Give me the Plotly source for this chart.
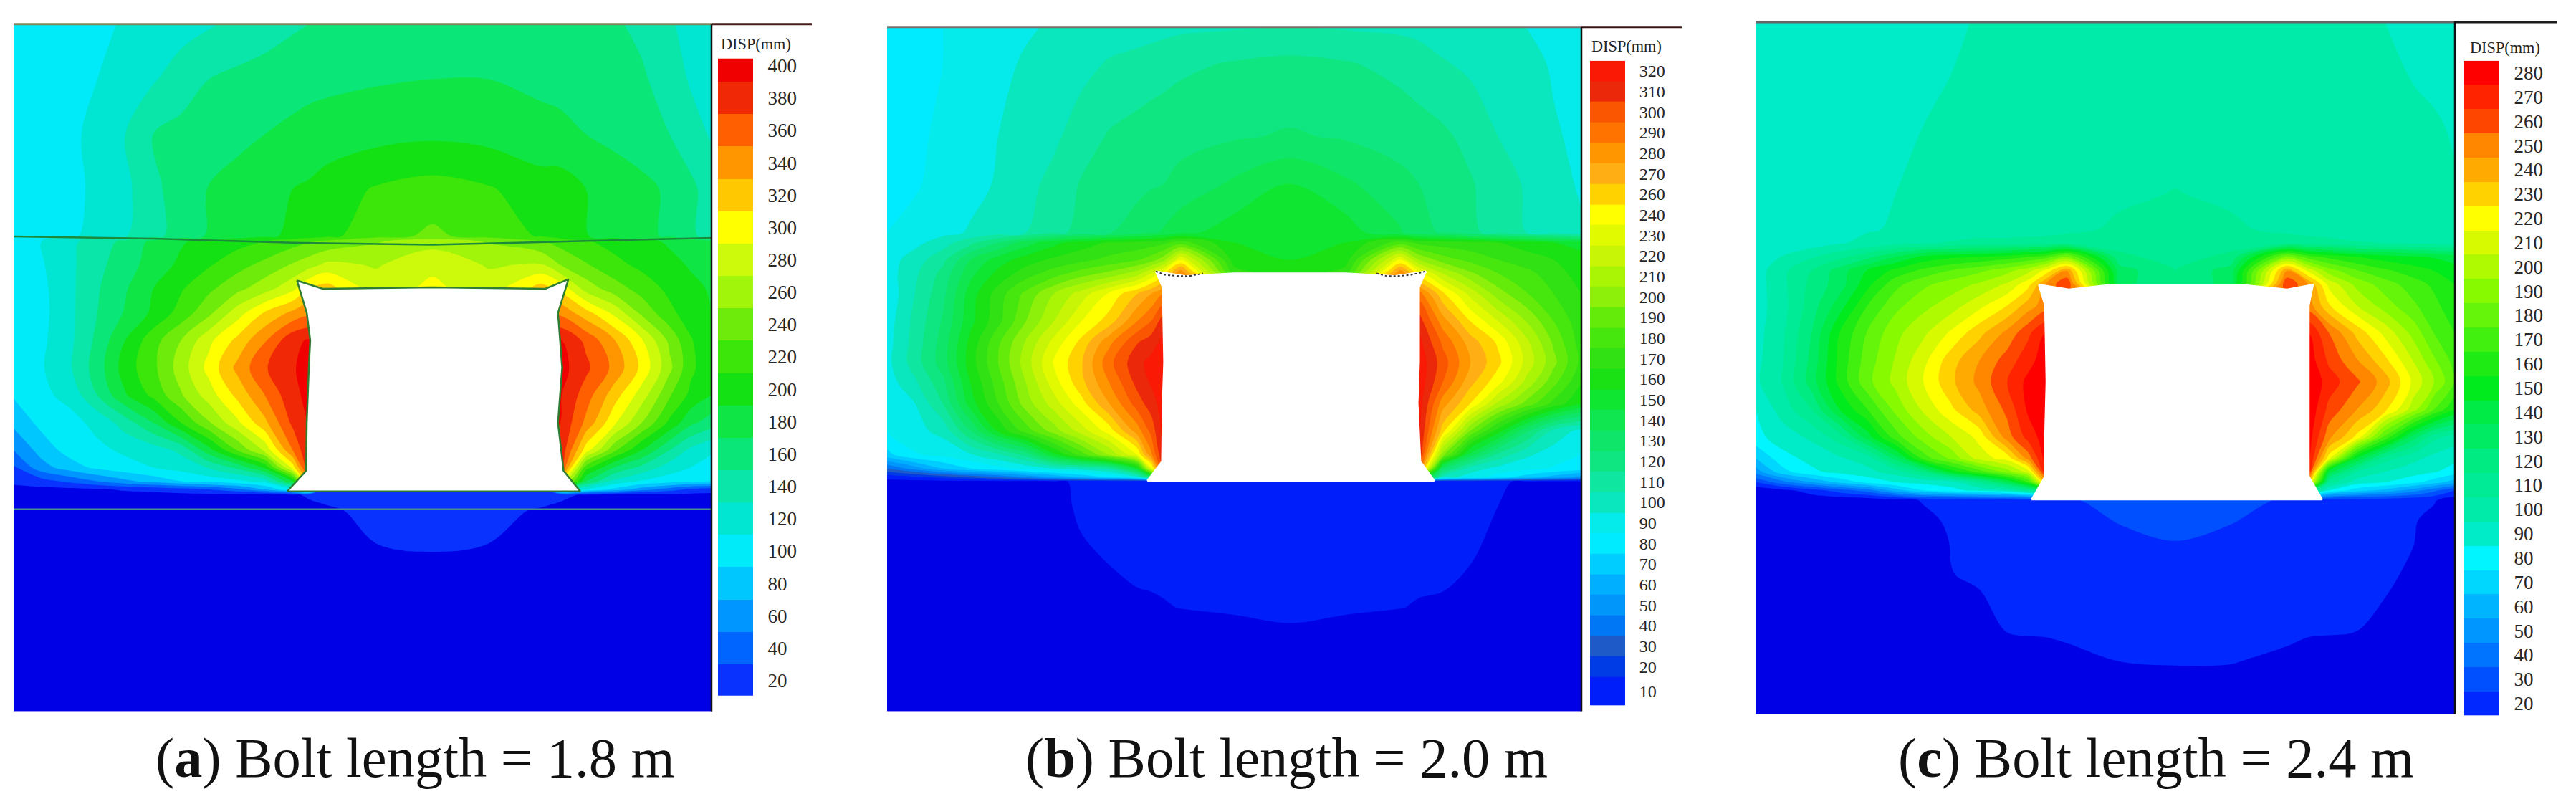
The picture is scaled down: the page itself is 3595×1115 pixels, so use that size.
import plotly.graph_objects as go

W, H = 3595, 1115

# ---------- panel (a): Bolt length = 1.8 m ----------
a_x = [0,4,8,12,16,20,24,28,32,36,40,42.3,45,52,60,68,75.5,78.3,82,86,90,94,97,100]
a_y = [100,92,84,76,69.2,68.4,65,61.5,58,54,50,46,42,38,35.5,33.5,32.3,31.5,29.2,24.4,22,0]
a_z = [
[102,104,106,108,111,116,122,128,134,140,147,150,153,157,160,158,157,156,155,153,145,132,125,120],
[100,103,106,110,120,128,140,150,155,159,163,165,166,168,170,170,166,164,160,157,153,140,128,120],
[98,102,107,114,130,150,156,160,165,170,174,176,178,183,186,183,176,175,170,165,160,150,138,128],
[96,100,106,113,125,145,160,171,177,184,190,193,200,212,218,212,200,200,190,181,175,167,155,140],
[94,100,107,116,128,143,160,172,180,186,194,198,205,222,234,222,208,200,191,182,175,167,155,140],
[95,110,125,140,155,175,188,196,203,210,222,228,235,248,262,248,232,222,212,203,196,187,180,175],
[94,108,125,145,160,180,194,208,222,236,252,262,275,268,285,268,272,250,232,216,205,196,188,180],
[93,105,125,148,168,190,208,226,244,262,285,310,320,280,295,280,320,305,262,240,222,205,195,188],
[92,104,125,150,172,194,218,245,280,312,335,345,345,345,345,345,345,345,318,285,245,215,200,190],
[94,106,125,155,190,222,250,285,315,348,385,392,392,392,392,392,392,392,365,332,292,245,212,193],
[95,108,127,160,200,225,260,297,335,368,388,398,398,398,398,398,398,398,375,345,305,255,215,195],
[92,106,115,150,188,215,248,280,315,350,385,395,395,395,395,395,395,392,360,320,280,232,205,190],
[75,96,104,115,140,170,210,248,285,325,375,392,392,392,392,392,392,390,345,295,250,205,175,160],
[50,78,98,106,113,120,135,183,230,275,350,390,390,390,390,390,390,388,300,235,190,150,125,112],
[28,62,80,95,104,110,118,132,155,195,300,385,385,385,385,385,385,380,220,170,145,120,110,104],
[14,22,35,50,65,78,90,98,105,118,190,320,300,300,300,300,300,300,170,125,108,100,95,90],
[5,5,5,8,12,15,22,30,45,70,110,180,20,20,20,20,20,150,110,85,60,40,25,20],
[5,5,5,5,5,5,5,5,5,6,8,12,16,20,20,20,18,14,8,5,5,5,5,5],
[5,5,5,5,5,5,5,5,5,5,5,5,7,16,20,16,8,5,5,5,5,5,5,5],
[5,5,5,5,5,5,5,5,5,5,5,5,5,10,15,10,5,5,5,5,5,5,5,5],
[5]*24,
[5]*24,
]
a_hole_x = [40.6,42.0,42.5,42.3,42.0,41.9,39.2,60,81.2,78.8,78.0,78.6,78.0,79.5,76.2,60,44.3,40.6]
a_hole_y = [62.7,58,54,50,42,35,32,32,32,35,42,50,58,62.9,61.5,61.7,61.5,62.7]
a_seam1_x = [0,20,40,60,80,100]
a_seam1_y = [69.1,68.8,68.2,67.9,68.4,68.9]
a_seam2_x = [0,100]
a_seam2_y = [29.4,29.4]
a_labels = [20,40,60,80,100,120,140,160,180,200,220,240,260,280,300,320,340,360,380,400]
a_colors = ["#0000E6","#0A32FF","#0064FF","#0096FF","#00C8FF","#00EBFA","#00E6D2","#0AE6AA","#0AE678",
            "#0FE646","#14E114","#3CE60A","#6EEB0A","#A0F50A","#CDFA0A","#FFFF00","#FFC800","#FF9600",
            "#FF5F00","#F02805","#F00000"]

# ---------- panel (b): Bolt length = 2.0 m ----------
b_x = [0,4,8,12,16,20,24,28,32,36,38,39.7,42.3,50,58,66,73.9,76.6,80,84,88,92,96,100]
b_y = [100,94.6,84,77,70,68.5,66,64,61,57,54,51,48,45,41,37.5,35.5,34.2,33.6,30,22,15.2,13,0]
b_z = [
[82,83,85,88,91,94,96,98,100,101,101,102,103,104,105,104,103,102,100,99,97,95,93,90],
[80,82,85,89,93,96,99,102,106,108,110,111,113,116,118,116,112,110,106,103,100,98,94,91],
[80,83,87,91,95,99,103,110,116,119,120,121,122,124,126,124,121,119,117,112,105,100,96,93],
[80,84,88,92,96,102,108,116,120,122,124,125,128,137,146,137,128,125,120,116,110,104,98,94],
[85,88,92,96,100,105,112,118,124,130,133,136,142,150,154,150,136,128,124,118,110,105,100,96],
[88,92,100,112,125,140,152,160,166,168,170,172,180,155,152,155,180,172,170,168,165,160,155,150],
[90,100,112,135,150,160,167,172,178,184,190,200,235,160,155,160,235,205,190,182,175,170,165,160],
[90,103,118,142,158,170,180,190,198,210,225,240,275,170,160,170,275,240,215,197,185,178,170,160],
[88,105,122,150,170,188,205,220,237,255,265,275,275,275,275,275,275,280,248,222,200,186,175,165],
[90,108,126,152,172,195,215,235,250,275,285,300,300,300,300,300,300,300,270,245,225,205,185,168],
[91,109,129,158,183,206,228,248,272,294,300,308,308,308,308,308,308,308,283,260,243,218,193,170],
[92,110,130,160,185,210,236,254,282,302,308,312,312,312,312,312,312,312,290,265,248,222,198,172],
[90,103,122,155,180,205,230,252,275,298,306,312,312,312,312,312,312,312,285,258,238,212,188,165],
[85,95,115,150,175,200,220,241,265,290,300,310,310,310,310,310,310,310,270,245,213,192,172,155],
[85,92,98,125,157,180,200,220,240,270,288,308,308,308,308,308,308,308,250,195,160,128,102,92],
[72,84,88,94,103,118,152,180,205,235,272,305,305,305,305,305,305,305,200,140,112,97,90,85],
[35,50,65,75,82,88,95,100,108,150,230,290,290,290,290,290,290,280,130,100,92,88,84,80],
[8,12,18,26,34,45,55,65,75,90,130,180,180,180,180,180,180,170,100,90,80,70,60,50],
[2,2,2,2,2,2,4,6,8,8,8,8,8,8,8,8,8,8,8,7,6,4,2,2],
[2,2,2,2,2,2,3,6,8,8,8,8,8,8,8,8,8,8,8,7,5,3,2,2],
[2,2,2,2,2,2,2,4,5.2,7,7,7,7,8,8,8,7,7,7,5.2,3,2,2,2],
[2,2,2,2,2,2,2,2,3,3.5,4,4.5,5.2,6,7,6,5.2,4.5,4,3,2,2,2,2],
[2,2,2,2,2,2,2,2,2,2,2,2,3,4,5.1,4,3,2,2,2,2,2,2,2],
[2]*24,
]
b_hole_x = [38.7,39.7,39.9,39.7,39.6,37.5,58,78.8,76.8,76.4,76.6,76.6,77.6,73,66,50,43,38.7]
b_hole_y = [64.3,62,51,45,36.5,33.7,33.7,33.7,36.5,45,51,62,64.3,63.6,64,64,63.6,64.3]
b_tip1_x = [38.7,40,42,43.5,45.5]
b_tip1_y = [64.3,63.8,63.6,63.6,64]
b_tip2_x = [70.5,72,73.5,75.5,77.6]
b_tip2_y = [64,63.6,63.6,63.8,64.3]
# the source legend skips 250, so the printed labels are kept as they are
b_labels = [10,20,30,40,50,60,70,80,90,100,110,120,130,140,150,160,170,180,190,200,210,220,230,240,
            260,270,280,290,300,310,320]
b_levels = [10,20,30,40,50,60,70,80,90,100,110,120,130,140,150,160,170,180,190,200,210,220,230,240,
            250,260,270,280,290,300,310]
b_edges = [1,15,25,35,45,55,65,75,85,95,105,115,125,135,145,155,165,175,185,195,205,215,225,235,
           245,255,265,275,285,295,305,315]
b_ticks = [8,20,30,40,50,60,70,80,90,100,110,120,130,140,150,160,170,180,190,200,210,220,230,240,
           250,260,270,280,290,300,310]
b_colors = ["#0000E6","#001EFA","#003CE6","#1E5AC8","#0078F5","#0096FA","#00AFFF","#00CDFF","#00EBFF",
            "#05EBEB","#0AE6BE","#0FE6A0","#0FE682","#0FE669","#0FE650","#0FE632","#19E114","#32E114",
            "#46E60F","#64EB0A","#8CF00A","#AAF505","#C8F505","#E1FA00","#FFFF00","#FFD200","#FFAF14",
            "#FF9600","#FF7300","#FA5500","#EB280A","#FA1905"]

# ---------- panel (c): Bolt length = 2.4 m ----------
c_x = [0,4,8,12,16,20,24,28,32,36,39,41.4,44.5,52,60,68,76,79.1,82,86,90,94,97,100]
c_y = [100,85,75,70,68,66,64,62,59,55,51,48,44,40,37,35,33.5,32.3,30.9,28,25,20,12,7.6,0]
c_z = [
[85,86,87,88,89,90,91,93,96,97,98,98,98,99,99,99,98,98,98,97,95,92,90,88],
[85,86,87,88,90,92,95,97,98,98,98,98,99,99,100,99,98,98,98,98,98,97,96,94],
[85,87,88,90,92,95,97,98,98,99,99,100,100,103,105.5,103,100,99,99,98,98,97,97,96],
[86,88,90,92,94,96,98,99,100,100,100,100,102,107,110,107,102,100,100,99,99,98,97,97],
[86,88,90,94,98,102,104,106,108,108,109,110,112,110,112,110,112,110,108,106,105,104,103,102],
[88,96,104,112,122,135,148,153,155,160,165,170,188,118,110,118,188,170,162,155,150,147,144,140],
[90,103,115,130,146,158,168,176,183,192,202,218,245,130,115,130,245,212,190,176,167,160,155,150],
[90,103,118,130,152,172,183,190,197,207,222,245,265,130,115,130,265,245,212,192,180,170,163,155],
[90,102,120,140,165,182,192,200,212,225,240,250,250,250,250,250,250,250,226,205,190,177,168,158],
[91,104,125,155,176,192,203,217,232,248,263,275,275,275,275,275,275,275,255,232,212,192,175,165],
[92,105,128,158,180,196,212,231,245,260,271,281,281,281,281,281,281,281,263,246,228,205,187,171],
[93,106,130,158,182,198,215,233,248,265,278,284,284,284,284,284,284,284,270,257,240,213,195,176],
[85,100,115,145,165,188,207,223,240,258,277,283,283,283,283,283,283,283,262,245,228,200,175,155],
[82,90,97,110,140,170,190,205,218,250,269,280,280,280,280,280,280,280,248,222,172,130,108,100],
[65,82,88,94,100,130,170,188,210,220,250,278,278,278,278,278,278,278,220,145,110,98,92,88],
[50,72,83,88,92,100,118,150,170,190,210,270,270,270,270,270,270,270,140,105,95,90,86,80],
[25,42,55,68,78,85,88,90,110,135,165,230,230,230,230,230,230,230,110,90,85,78,70,60],
[8,12,20,30,40,60,75,82,88,95,110,120,30,30,30,30,30,120,85,70,62,50,38,25],
[8,8,8,8,8,11,16,18,19,20,21,22,24,28,30,28,24,22,20,19,18,17,16,10],
[8,8,8,8,8,8,12,17,18,19,20,21,22,25.5,28,25.5,22,21,20,19,18,16,12,8],
[8,8,8,8,8,8,10,15.5,17,18,19,20,21,23,25,23,21,20,19,18,18,15.5,10,8],
[8,8,8,8,8,8,9,14.8,16,17,18,18,18,18,19,18,18,18,18,17,17,13,9,8],
[8,8,8,8,8,8,8,9,12,15.3,16,16,17,17,18,17,17,16,16,15,12,9,8,8],
[8,8,8,8,8,8,8,8,8,8,10,11,12,15,15.6,15.4,13,11,9,8,8,8,8,8],
[8]*24,
]
c_hole_x = [40.5,41.4,41.6,41.4,41.4,39.5,60,81,79.1,79.1,79.1,79.1,79.7,76,69.3,60,51,44.8,40.5]
c_hole_y = [62,59,48,40,34.3,31,31,31,34.3,40,48,59,62,61.3,62,62,62,61.3,62]
c_labels = [20,30,40,50,60,70,80,90,100,110,120,130,140,150,160,170,180,190,200,210,220,230,240,250,260,270,280]
c_colors = ["#0000E6","#0028FF","#0050FF","#0073FF","#0096FF","#00B4FF","#00D7FF","#00F5FF","#00EBC8",
            "#00EBAA","#00EB96","#00EB82","#00EB64","#00EB46","#00EB1E","#1EEB14","#41F00F","#64F50A",
            "#87FA00","#AFFA00","#D7FA00","#FFFF00","#FFD200","#FFAA00","#FF8700","#FF4600","#FF2300","#FF0000"]

captions = ["(<b>a</b>) Bolt length = 1.8 m", "(<b>b</b>) Bolt length = 2.0 m", "(<b>c</b>) Bolt length = 2.4 m"]
legend_title = "DISP(mm)"

for g, ys, xs in ((a_z, a_y, a_x), (b_z, b_y, b_x), (c_z, c_y, c_x)):
    assert len(g) == len(ys)
    assert all(len(r) == len(xs) for r in g)


def px(x):
    return x / W


def py(y):
    return 1 - y / H


def scale(cols):
    return [[i / (len(cols) - 1), c] for i, c in enumerate(cols)]


panels = [
    dict(x=a_x, y=a_y, z=a_z, hx=a_hole_x, hy=a_hole_y, cols=a_colors, zmin=0, zmax=400,
         start=-10, end=410, size=20, outline="#2E7D32", box=(19, 993, 29, 992), bar=(1002, 1051, 77, 970),
         bar_y=a_labels, bar_z=a_labels, bar_rng=[10.7, 404.4], ticks=a_labels, ticktext=a_labels, font=27,
         cap_x=579, title_x=1055, title_y=57, rule=(19, 1133, 29), rule_c="#7E8A5E", rule2="#4A1E1E"),
    dict(x=b_x, y=b_y, z=b_z, hx=b_hole_x, hy=b_hole_y, cols=b_colors, zmin=0, zmax=310,
         start=-5, end=315, size=10, outline="#FFFFFF", box=(1238, 2207, 33, 992), bar=(2219, 2268, 80, 984),
         bar_y=b_edges, bar_z=b_levels, bar_rng=[1, 315], ticks=b_ticks, ticktext=b_labels, font=24,
         cap_x=1795, title_x=2270, title_y=60, rule=(1238, 2347, 33), rule_c="#777066", rule2="#3A1616"),
    dict(x=c_x, y=c_y, z=c_z, hx=c_hole_x, hy=c_hole_y, cols=c_colors, zmin=10, zmax=280,
         start=5, end=285, size=10, outline="#FFFFFF", box=(2450, 3426, 25, 996), bar=(3438, 3488, 80, 998),
         bar_y=c_labels, bar_z=c_labels, bar_rng=[15, 285], ticks=c_labels, ticktext=c_labels, font=27,
         cap_x=3009, title_x=3496, title_y=62, rule=(2450, 3568, 26), rule_c="#666666", rule2="#1C1C1C"),
]

fig = go.Figure()
layout = {}
shapes = []
annotations = []

for i, p in enumerate(panels):
    n_map = 2 * i + 1
    n_bar = 2 * i + 2
    xa_map, ya_map = f"x{n_map}", f"y{n_map}"
    xa_bar, ya_bar = f"x{n_bar}", f"y{n_bar}"
    x0, x1, y0, y1 = p["box"]
    layout[f"xaxis{n_map}"] = dict(domain=[px(x0), px(x1)], range=[0, 100], visible=False, anchor=ya_map)
    layout[f"yaxis{n_map}"] = dict(domain=[py(y1), py(y0)], range=[0, 100], visible=False, anchor=xa_map)
    bx0, bx1, by0, by1 = p["bar"]
    layout[f"xaxis{n_bar}"] = dict(domain=[px(bx0), px(bx1)], range=[0, 1], visible=False, anchor=ya_bar)
    layout[f"yaxis{n_bar}"] = dict(
        domain=[py(by1), py(by0)], range=p["bar_rng"], anchor=xa_bar, side="right",
        tickmode="array", tickvals=p["ticks"], ticktext=[str(t) for t in p["ticktext"]],
        ticks="outside", ticklen=14, tickcolor="rgba(255,255,255,0)", showgrid=False, zeroline=False,
        showline=False, tickfont=dict(family="Liberation Serif", size=p["font"], color="#262626"),
    )
    fig.add_trace(go.Contour(
        x=p["x"], y=p["y"][::-1], z=p["z"][::-1], xaxis=xa_map, yaxis=ya_map,
        colorscale=scale(p["cols"]), zmin=p["zmin"], zmax=p["zmax"], showscale=False,
        autocontour=False, contours=dict(coloring="fill", showlines=False,
                                         start=p["start"], end=p["end"], size=p["size"]),
        line=dict(width=0), hoverinfo="skip",
    ))
    fig.add_trace(go.Scatter(
        x=p["hx"], y=p["hy"], xaxis=xa_map, yaxis=ya_map, mode="lines", fill="toself",
        fillcolor="#FFFFFF", line=dict(color=p["outline"], width=2.5), hoverinfo="skip",
    ))
    fig.add_trace(go.Heatmap(
        x=[0, 1], y=p["bar_y"], z=[[v] for v in p["bar_z"]], xaxis=xa_bar, yaxis=ya_bar,
        colorscale=scale(p["cols"]), zmin=p["zmin"], zmax=p["zmax"], showscale=False, hoverinfo="skip",
    ))
    rx0, rx1, ry = p["rule"]
    shapes.append(dict(type="line", xref="paper", yref="paper", x0=px(rx0), x1=px(x1), y0=py(ry), y1=py(ry),
                       line=dict(color=p["rule_c"], width=3)))
    shapes.append(dict(type="line", xref="paper", yref="paper", x0=px(x1), x1=px(rx1), y0=py(ry), y1=py(ry),
                       line=dict(color=p["rule2"], width=3)))
    shapes.append(dict(type="line", xref="paper", yref="paper", x0=px(x1), x1=px(x1), y0=py(y0), y1=py(y1),
                       line=dict(color="#111111", width=2.5)))
    annotations.append(dict(text=legend_title, xref="paper", yref="paper", x=px(p["title_x"]), y=py(p["title_y"]),
                            xanchor="center", yanchor="middle", showarrow=False,
                            font=dict(family="Liberation Serif", size=22.3, color="#262626")))
    annotations.append(dict(text=captions[i], xref="paper", yref="paper", x=px(p["cap_x"]), y=py(1057),
                            xanchor="center", yanchor="middle", showarrow=False,
                            font=dict(family="Liberation Serif", size=78.5, color="#111111")))

# strata seams in panel (a)
fig.add_trace(go.Scatter(x=a_seam1_x, y=a_seam1_y, xaxis="x1", yaxis="y1", mode="lines",
                         line=dict(color="#1B8A3C", width=2.5), hoverinfo="skip"))
fig.add_trace(go.Scatter(x=a_seam2_x, y=a_seam2_y, xaxis="x1", yaxis="y1", mode="lines",
                         line=dict(color="#4A8F90", width=2.5), hoverinfo="skip"))
# dotted corner outlines in panel (b)
for tx, ty in ((b_tip1_x, b_tip1_y), (b_tip2_x, b_tip2_y)):
    fig.add_trace(go.Scatter(x=tx, y=ty, xaxis="x3", yaxis="y3", mode="lines",
                             line=dict(color="#333333", width=2, dash="dot"), hoverinfo="skip"))

fig.update_layout(width=W, height=H, margin=dict(l=0, r=0, t=0, b=0), paper_bgcolor="#FFFFFF",
                  plot_bgcolor="#FFFFFF", showlegend=False, shapes=shapes, annotations=annotations, **layout)
fig.write_html("out.html", config={"displayModeBar": False}, post_script="document.body.style.margin='0';")
